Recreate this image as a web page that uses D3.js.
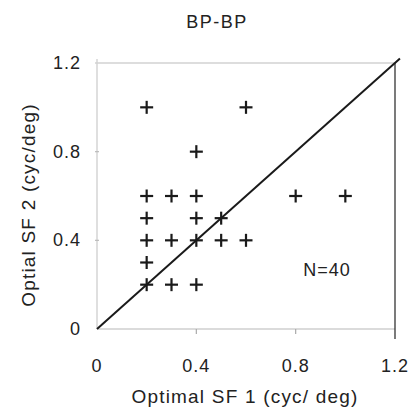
<!DOCTYPE html>
<html>
<head>
<meta charset="utf-8">
<script src="https://cdn.jsdelivr.net/npm/d3@7"></script>
<style>
  body { margin: 0; background: #fff; }
  text { font-family: Arial, "Liberation Sans", sans-serif; fill: #222; }
</style>
</head>
<body>
<script>
// #Data (duplicates hidden, N=40 total)
const sf1 = [0.2, 0.6, 0.4, 0.2, 0.3, 0.4, 0.8, 1.0, 0.2, 0.4, 0.5, 0.2, 0.3, 0.4, 0.5, 0.6, 0.2, 0.2, 0.3, 0.4];
const sf2 = [1.0, 1.0, 0.8, 0.6, 0.6, 0.6, 0.6, 0.6, 0.5, 0.5, 0.5, 0.4, 0.4, 0.4, 0.4, 0.4, 0.3, 0.2, 0.2, 0.2];
const tickValues = [0, 0.4, 0.8, 1.2];
const tickLabels = ['0', '0.4', '0.8', '1.2'];
const diagonal = [0, 1.22];

const width = 412, height = 416;

const svg = d3.select('body')
              .append('svg')
              .attr('width', width)
              .attr('height', height);

// #Scales
const x = d3.scaleLinear().domain([0, 1.2]).range([97, 395]);
const y = d3.scaleLinear().domain([0, 1.2]).range([329, 63]);

// #Frame: faint gray left/bottom/top, dark right edge
svg.append('line')
   .attr('x1', x(0)).attr('x2', x(0))
   .attr('y1', y(1.2) - 4).attr('y2', y(0))
   .attr('stroke', '#d4d4d4').attr('stroke-width', 1.5);
svg.append('line')
   .attr('x1', x(0)).attr('x2', x(1.2))
   .attr('y1', y(0)).attr('y2', y(0))
   .attr('stroke', '#cfcfcf').attr('stroke-width', 1.5);
svg.append('line')
   .attr('x1', x(0) - 2).attr('x2', x(1.2))
   .attr('y1', y(1.2)).attr('y2', y(1.2))
   .attr('stroke', '#d2d2d2').attr('stroke-width', 1.5);
svg.append('line')
   .attr('x1', x(1.2)).attr('x2', x(1.2))
   .attr('y1', y(1.2)).attr('y2', y(0) + 10)
   .attr('stroke', '#333').attr('stroke-width', 1.3);

// #Small gray ticks
svg.append('g')
   .selectAll('line')
   .data(tickValues.slice(1, 3))
   .enter()
   .append('line')
   .attr('x1', d => x(d)).attr('x2', d => x(d))
   .attr('y1', y(0)).attr('y2', y(0) + 5)
   .attr('stroke', '#aaa').attr('stroke-width', 1.2);
svg.append('g')
   .selectAll('line')
   .data(tickValues.slice(1, 3))
   .enter()
   .append('line')
   .attr('x1', x(0) - 2).attr('x2', x(0) + 2)
   .attr('y1', d => y(d)).attr('y2', d => y(d))
   .attr('stroke', '#bbb').attr('stroke-width', 1.2);

// #Tick labels
svg.append('g')
   .selectAll('text')
   .data(tickValues)
   .enter()
   .append('text')
   .attr('x', d => x(d))
   .attr('y', 372)
   .attr('text-anchor', 'middle')
   .style('font-size', '18px')
   .style('letter-spacing', '1px')
   .text((d, i) => tickLabels[i]);
svg.append('g')
   .selectAll('text')
   .data(tickValues)
   .enter()
   .append('text')
   .attr('x', 81)
   .attr('y', d => y(d) + 6)
   .attr('text-anchor', 'end')
   .style('font-size', '18px')
   .style('letter-spacing', '1px')
   .text((d, i) => tickLabels[i]);

// #Diagonal unity line
svg.append('line')
   .attr('x1', x(diagonal[0])).attr('y1', y(diagonal[0]))
   .attr('x2', x(diagonal[1])).attr('y2', y(diagonal[1]))
   .attr('stroke', '#1a1a1a').attr('stroke-width', 2);

// #Plus markers
const arm = 6.5;
const plus = svg.append('g')
                .selectAll('g')
                .data(sf1.map((d, i) => [d, sf2[i]]))
                .enter()
                .append('g')
                .attr('transform', d => 'translate(' + x(d[0]) + ',' + y(d[1]) + ')');
plus.append('line')
    .attr('x1', -arm).attr('x2', arm).attr('y1', 0).attr('y2', 0)
    .attr('stroke', '#1a1a1a').attr('stroke-width', 2.2);
plus.append('line')
    .attr('x1', 0).attr('x2', 0).attr('y1', -arm).attr('y2', arm)
    .attr('stroke', '#1a1a1a').attr('stroke-width', 2.2);

// #Texts
svg.append('text')
   .attr('x', 217).attr('y', 28)
   .attr('text-anchor', 'middle')
   .style('font-size', '18px')
   .style('letter-spacing', '1.5px')
   .text('BP-BP');

svg.append('text')
   .attr('x', 327).attr('y', 276)
   .attr('text-anchor', 'middle')
   .style('font-size', '18px')
   .style('letter-spacing', '1px')
   .text('N=40');

svg.append('text')
   .attr('x', 245).attr('y', 403)
   .attr('text-anchor', 'middle')
   .style('font-size', '19px')
   .style('letter-spacing', '1.2px')
   .text('Optimal SF 1 (cyc/ deg)');

svg.append('text')
   .attr('transform', 'translate(35,205) rotate(-90)')
   .attr('text-anchor', 'middle')
   .style('font-size', '19px')
   .style('letter-spacing', '1.2px')
   .text('Optial SF 2 (cyc/deg)');
</script>
</body>
</html>
